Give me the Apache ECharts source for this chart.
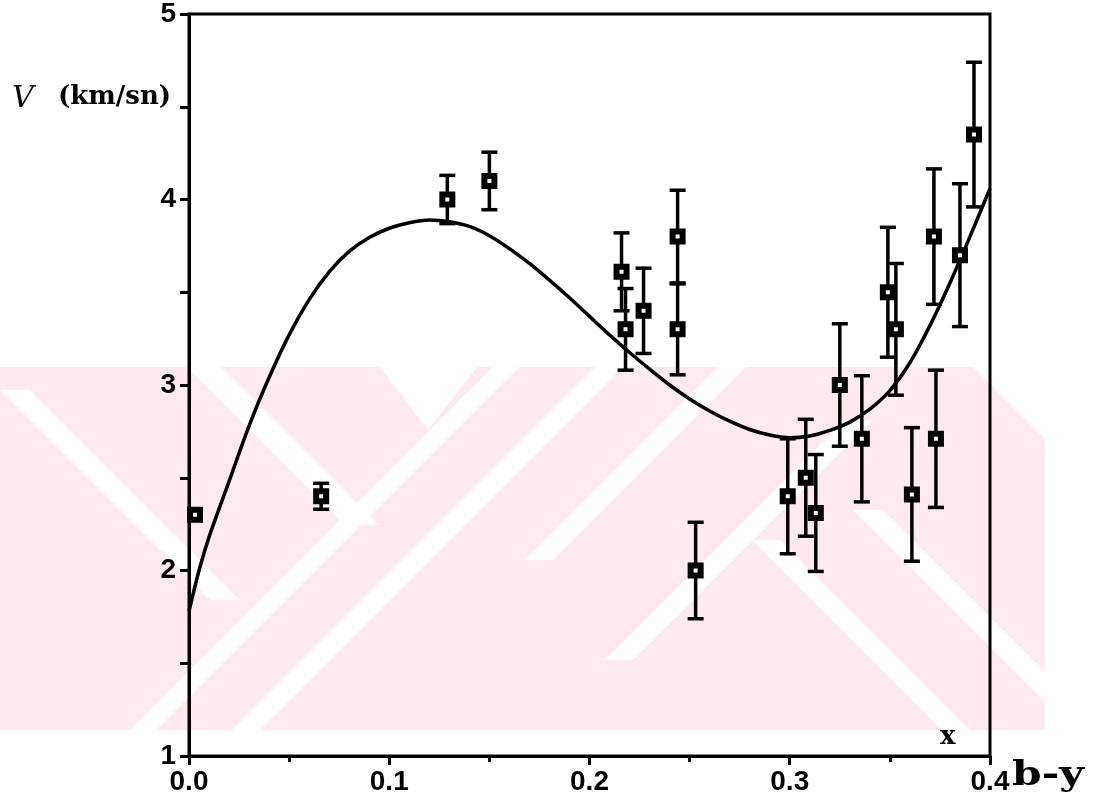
<!DOCTYPE html>
<html>
<head>
<meta charset="utf-8">
<script src="https://cdn.jsdelivr.net/npm/echarts@6/dist/echarts.min.js"></script>
<style>
  html, body { margin: 0; padding: 0; background: #fff; }
  #chart { width: 1097px; height: 806px; }
</style>
</head>
<body>
<div id="chart"></div>
<script>
// measured stars: b-y colour index, velocity and its error (km/sn)
const starX = [0.003, 0.066, 0.129, 0.150, 0.216, 0.218, 0.227, 0.244, 0.244, 0.253, 0.299,
  0.308, 0.313, 0.325, 0.336, 0.349, 0.353, 0.361, 0.372, 0.373, 0.385, 0.392];
const starV = [2.30, 2.40, 4.00, 4.10, 3.61, 3.30, 3.40, 3.80, 3.30, 2.00, 2.40,
  2.50, 2.31, 3.00, 2.71, 3.50, 3.30, 2.41, 3.80, 2.71, 3.70, 4.35];
const starErr = [0, 0.07, 0.13, 0.155, 0.21, 0.22, 0.23, 0.25, 0.245, 0.26, 0.31,
  0.315, 0.315, 0.33, 0.34, 0.35, 0.355, 0.36, 0.365, 0.37, 0.385, 0.39];

// fitted curve
const curveX = [0, 0.005, 0.01, 0.02, 0.03, 0.04, 0.05, 0.06, 0.07, 0.08, 0.09, 0.10,
  0.11, 0.12, 0.13, 0.14, 0.15, 0.16, 0.17, 0.18, 0.19, 0.20, 0.21, 0.22, 0.23, 0.24,
  0.25, 0.26, 0.27, 0.28, 0.29, 0.30, 0.31, 0.32, 0.33, 0.34, 0.35, 0.36, 0.37, 0.38,
  0.39, 0.40];
const curveV = [1.78, 2.00, 2.18, 2.48, 2.78, 3.04, 3.27, 3.46, 3.61, 3.72, 3.795, 3.845,
  3.875, 3.89, 3.88, 3.855, 3.805, 3.735, 3.655, 3.565, 3.47, 3.37, 3.27, 3.175, 3.085, 3.00,
  2.925, 2.86, 2.805, 2.76, 2.73, 2.715, 2.725, 2.755, 2.80, 2.87, 2.97, 3.12, 3.32, 3.55,
  3.80, 4.06];

const xTicks = [0, 0.1, 0.2, 0.3, 0.4];
const yTicks = [1, 2, 3, 4, 5];

const chart = echarts.init(document.getElementById('chart'));

const points = starX.map((x, i) => [x, starV[i]]);
const bars = starX
  .map((x, i) => [x, starV[i] - starErr[i], starV[i] + starErr[i]])
  .filter((d, i) => starErr[i] > 0);
const curve = curveX.map((x, i) => [x, curveV[i]]);

const tickFont = {
  color: '#000',
  fontFamily: 'Liberation Sans',
  fontWeight: 'bold',
  fontSize: 28
};

function renderBar(params, api) {
  const x = api.value(0);
  const lo = api.coord([x, api.value(1)]);
  const hi = api.coord([x, api.value(2)]);
  const half = 8;
  const style = { stroke: '#000', lineWidth: 3.5 };
  return {
    type: 'group',
    children: [
      { type: 'line', shape: { x1: lo[0], y1: lo[1], x2: hi[0], y2: hi[1] }, style },
      { type: 'line', shape: { x1: hi[0] - half, y1: hi[1], x2: hi[0] + half, y2: hi[1] }, style },
      { type: 'line', shape: { x1: lo[0] - half, y1: lo[1], x2: lo[0] + half, y2: lo[1] }, style }
    ]
  };
}

// faint pink watermark of the scanned page (pixel layout, decoration only)
const pink = '#fdeaee';
function slash(c, y1, y2, w) {
  return [[c - y1, y1], [c - y1 + w, y1], [c - y2 + w, y2], [c - y2, y2]];
}
function back(c, y1, y2, w) {
  return [[c + y1, y1], [c + y1 + w, y1], [c + y2 + w, y2], [c + y2, y2]];
}
const gaps = [
  slash(860, 367, 730, 26), slash(962, 367, 730, 28), slash(1085, 367, 560, 28),
  slash(1265, 420, 660, 28),
  back(-390, 390, 600, 30), back(-180, 367, 525, 34), back(212, 540, 730, 28),
  back(343, 510, 730, 30),
  [[380, 367], [477, 367], [428, 430]],
  [[973, 367], [1045, 367], [1045, 439]]
];
const watermark = [
  { type: 'rect', shape: { x: 0, y: 367, width: 1045, height: 363 }, style: { fill: pink }, z: -20 }
].concat(gaps.map(p => ({
  type: 'polygon', shape: { points: p }, style: { fill: '#fff' }, z: -19
})));

const option = {
  backgroundColor: '#fff',
  animation: false,
  grid: {
    left: 189,
    right: 107,
    top: 12,
    bottom: 50,
    show: true,
    borderColor: '#000',
    borderWidth: 3
  },
  xAxis: {
    type: 'value',
    min: xTicks[0],
    max: xTicks[xTicks.length - 1],
    interval: 0.1,
    axisLine: { lineStyle: { color: '#000', width: 3 } },
    axisTick: { length: 9, lineStyle: { color: '#000', width: 3 } },
    minorTick: { show: true, splitNumber: 2, length: 6, lineStyle: { color: '#000', width: 3 } },
    splitLine: { show: false },
    axisLabel: Object.assign({ margin: 12, formatter: v => v.toFixed(1) }, tickFont)
  },
  yAxis: {
    type: 'value',
    min: yTicks[0],
    max: yTicks[yTicks.length - 1],
    interval: 1,
    axisLine: { lineStyle: { color: '#000', width: 3 } },
    axisTick: { length: 9, lineStyle: { color: '#000', width: 3 } },
    minorTick: { show: true, splitNumber: 2, length: 9, lineStyle: { color: '#000', width: 3 } },
    splitLine: { show: false },
    axisLabel: Object.assign({ margin: 13 }, tickFont)
  },
  graphic: watermark.concat([
    {
      type: 'text', left: 12, top: 84,
      style: { text: 'V', font: 'italic 30px "DejaVu Serif"', fill: '#000' }
    },
    {
      type: 'text', left: 58, top: 84,
      style: { text: '(km/sn)', font: 'bold 26px "DejaVu Serif"', fill: '#000' }
    },
    {
      type: 'text', x: 1012, y: 759, scaleX: 1.25,
      style: { text: 'b-y', font: 'bold 34px "DejaVu Serif"', fill: '#000' }
    },
    {
      type: 'text', left: 940, top: 724,
      style: { text: 'x', font: 'bold 26px "DejaVu Serif"', fill: '#000' }
    }
  ]),
  series: [
    {
      type: 'line',
      data: curve,
      smooth: 0.3,
      showSymbol: false,
      lineStyle: { color: '#000', width: 3.5 },
      z: 2
    },
    {
      type: 'custom',
      data: bars,
      renderItem: renderBar,
      z: 3
    },
    {
      type: 'scatter',
      data: points,
      symbol: 'rect',
      symbolSize: 10,
      itemStyle: { color: '#fff', borderColor: '#000', borderWidth: 6, opacity: 1 },
      z: 4
    }
  ]
};

chart.setOption(option);
</script>
</body>
</html>
